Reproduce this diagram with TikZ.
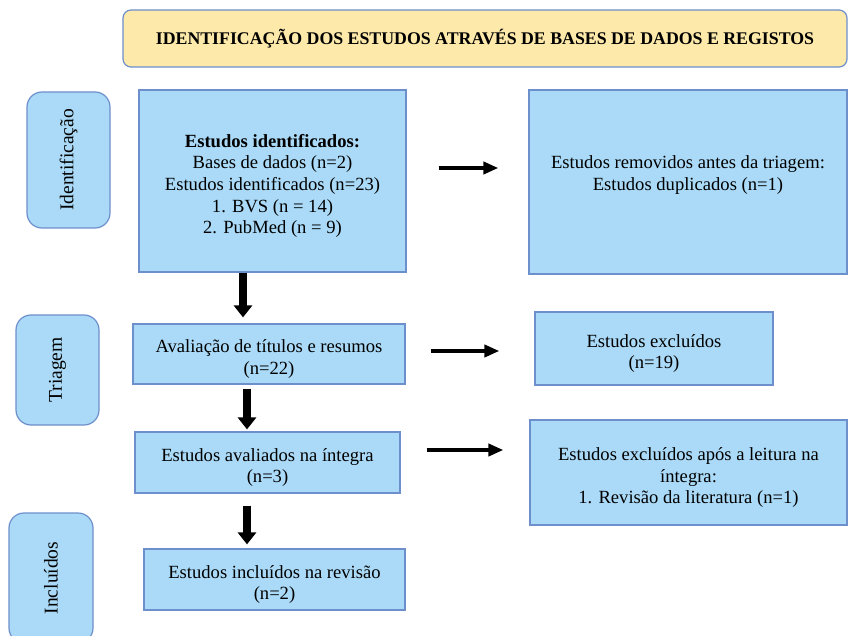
\documentclass[tikz,border=0pt]{standalone}
\usepackage{fontspec}
\setmainfont{Liberation Serif}
\usetikzlibrary{arrows.meta,positioning}
\definecolor{boxfill}{HTML}{AADAF7}
\definecolor{boxline}{HTML}{6D8FCB}
\definecolor{titlefill}{HTML}{FDE9A9}
\newcommand{\boxfont}{\fontsize{18.6}{21.6}\selectfont}
\newcommand{\topstrut}{\rule{0pt}{23pt}}
\tikzset{
  box/.style={draw=boxline, fill=boxfill, line width=1.2pt, align=center,
              font=\boxfont, inner sep=0pt},
  phase/.style={box, rounded corners=15pt, rotate=90,
                font=\fontsize{19.5}{22}\selectfont},
  titlebox/.style={box, fill=titlefill, rounded corners=8pt,
                   font=\fontsize{17.8}{20}\selectfont\bfseries},
  harr/.style={-{Triangle[length=15pt,width=12pt]}, line width=4.5pt, draw=black},
  darr/.style={-{Triangle[length=12pt,width=18pt]}, line width=7.5pt, draw=black}
}

\begin{document}
\begin{tikzpicture}[x=1pt,y=-1pt]
  \useasboundingbox (0,0) rectangle (848,636);

  \node[titlebox, minimum width=724pt, minimum height=57pt] (title) at (485,38.5)
     {IDENTIFICAÇÃO DOS ESTUDOS ATRAVÉS DE BASES DE DADOS E REGISTOS};

  % fases
  \node[phase, minimum width=136pt, minimum height=83pt] (fase1) at (68.5,160) {Identificação};
  \node[phase, minimum width=110pt, minimum height=83pt] (fase2) at (57.5,370) {Triagem};
  \node[phase, minimum width=130pt, minimum height=84pt] (fase3) at (51,578) {Incluídos};

  % coluna principal
  \node[box, minimum width=267pt, minimum height=182pt] (ident) at (272.5,181)
     {\topstrut\bfseries Estudos identificados:\\Bases de dados (n=2)\\Estudos identificados (n=23)\\1. BVS (n = 14)\\2. PubMed (n = 9)};
  \node[box, minimum width=272pt, minimum height=60pt] (aval) at (269,354)
     {\topstrut Avaliação de títulos e resumos\\(n=22)};
  \node[box, minimum width=265pt, minimum height=61pt] (integra) at (267.5,462.5)
     {\topstrut Estudos avaliados na íntegra\\(n=3)};
  \node[box, minimum width=261pt, minimum height=61pt] (incl) at (274.5,579.5)
     {\topstrut Estudos incluídos na revisão\\(n=2)};

  % coluna da direita
  \node[box, minimum width=318pt, minimum height=184pt] (removed) at (688,182)
     {\topstrut Estudos removidos antes da triagem:\\Estudos duplicados (n=1)\\\strut};
  \node[box, minimum width=238pt, minimum height=73pt] (excl) at (654,348.5)
     {\topstrut Estudos excluídos\\(n=19)};
  \node[box, minimum width=317pt, minimum height=105pt] (exclint) at (688.5,472.5)
     {\topstrut Estudos excluídos após a leitura na\\íntegra:\\1. Revisão da literatura (n=1)};

  % setas
  \draw[harr, shorten <=32pt, shorten >=30pt] ([yshift=13pt]ident.east) -- ([yshift=13pt]ident.east -| removed.west);
  \draw[harr, shorten <=25pt, shorten >=35pt] ([yshift=3pt]aval.east) -- ([yshift=3pt]aval.east -| excl.west);
  \draw[harr, shorten <=26pt, shorten >=26pt] ([yshift=12.5pt]integra.east) -- ([yshift=12.5pt]integra.east -| exclint.west);

  \draw[darr, shorten >=6pt] ([xshift=-29.5pt]ident.south) -- ([xshift=-29.5pt]ident.south |- aval.north);
  \draw[darr, shorten <=4pt, shorten >=2pt] ([xshift=-22pt]aval.south) -- ([xshift=-22pt]aval.south |- integra.north);
  \draw[darr, shorten <=12pt, shorten >=4pt] ([xshift=-20.5pt]integra.south) -- ([xshift=-20.5pt]integra.south |- incl.north);
\end{tikzpicture}
\end{document}
